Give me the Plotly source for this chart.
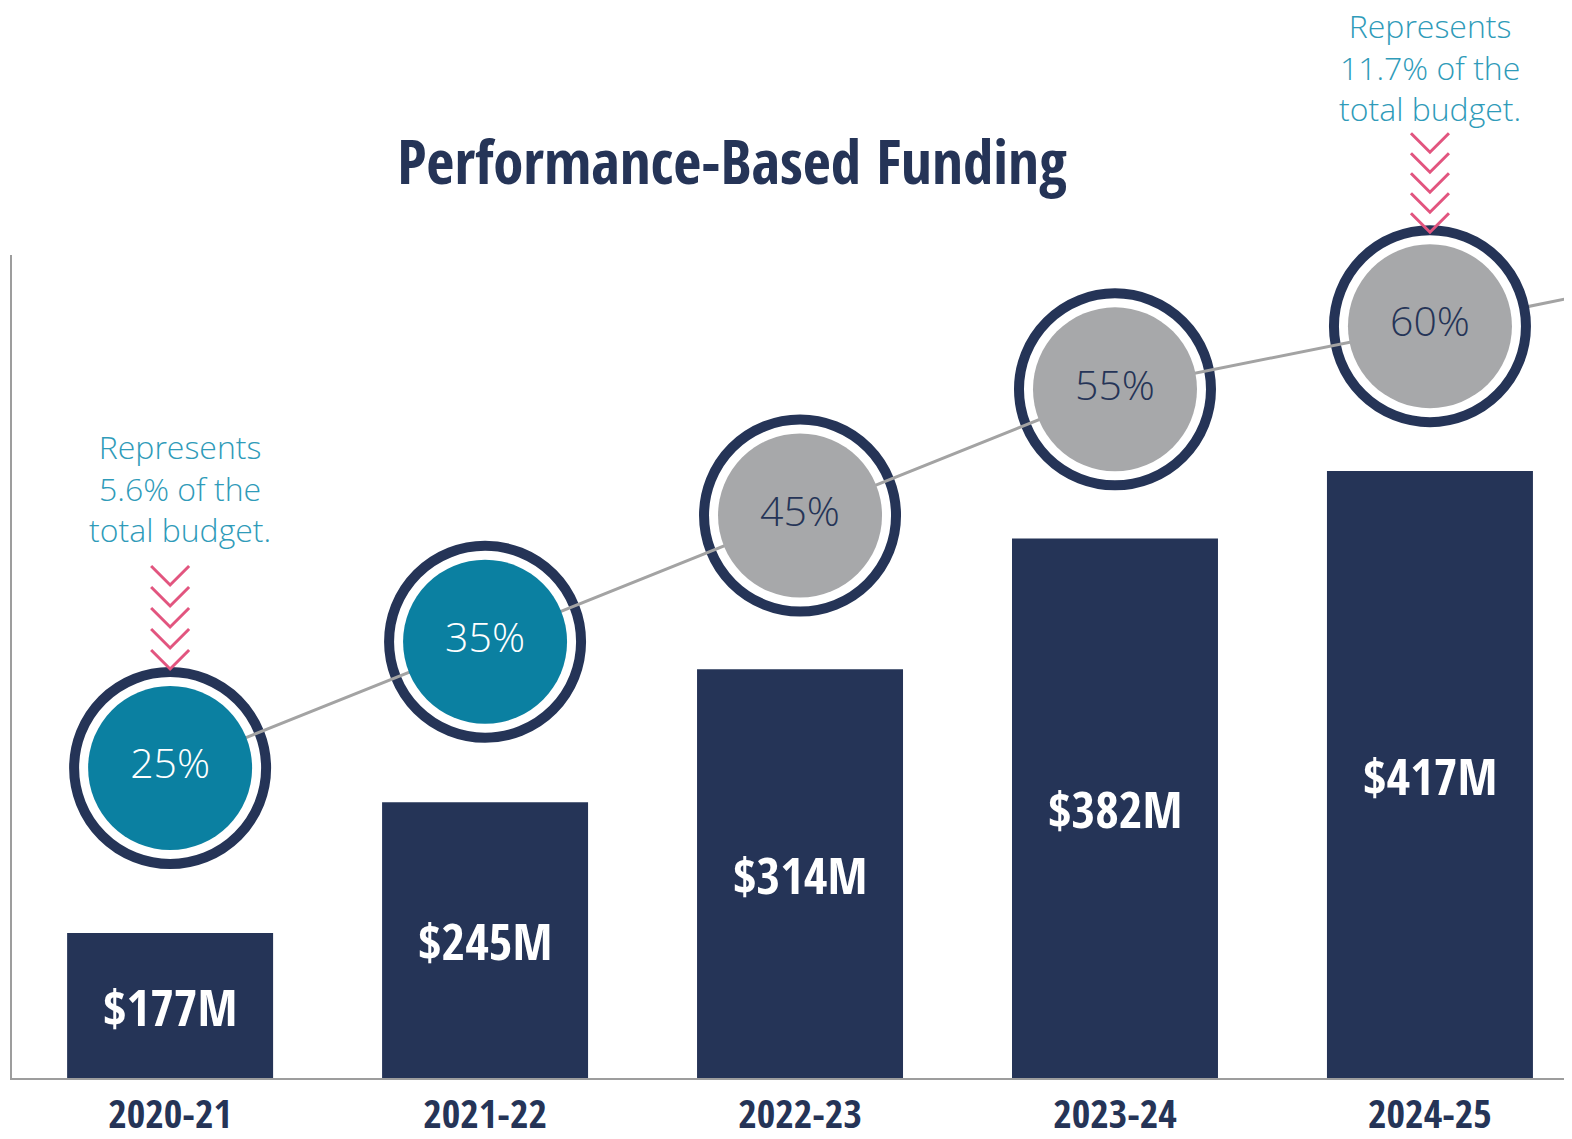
import plotly.graph_objects as go

# --- data ---
years = ["2020-21", "2021-22", "2022-23", "2023-24", "2024-25"]
funding = [177, 245, 314, 382, 417]          # $M
pbf_share = [25, 35, 45, 55, 60]             # % of funding that is performance based
note_years = ["2020-21", "2024-25"]
note_budget = ["5.6%", "11.7%"]

# --- style ---
NAVY = "#253457"
TEAL = "#0b80a1"
GREY = "#a7a8aa"
NOTE = "#2f9bb9"
PINK = "#e2557f"
AXIS = "#9d9d9d"
circle_fill = [TEAL, TEAL, GREY, GREY, GREY]
circle_text = ["white", "white", NAVY, NAVY, NAVY]
BOLD = ("Liberation Sans Narrow, Noto Sans Condensed, Open Sans Condensed, "
        "Roboto Condensed, DejaVu Sans Condensed, sans-serif")
LIGHT = "Open Sans, Lato, sans-serif"

Y_RANGE = [101.7, 529.2]     # bar axis is truncated
Y2_RANGE = [0.44, 65.64]
X_RANGE = [-0.502, 4.451]


def y2_paper(p):
    return (p - Y2_RANGE[0]) / (Y2_RANGE[1] - Y2_RANGE[0])


fig = go.Figure()

fig.add_trace(go.Bar(
    x=years, y=funding, width=0.654,
    marker=dict(color=NAVY, line=dict(width=0)),
    hovertemplate="%{x}: $%{y}M<extra></extra>",
    showlegend=False,
))

# outer navy ring with white gap
fig.add_trace(go.Scatter(
    x=years, y=pbf_share, yaxis="y2", mode="markers", cliponaxis=False,
    marker=dict(size=192, color="white", line=dict(color=NAVY, width=10)),
    hoverinfo="skip", showlegend=False,
))

# connecting line
fig.add_trace(go.Scatter(
    x=years, y=pbf_share, yaxis="y2", mode="lines", cliponaxis=False,
    line=dict(color="#a3a3a3", width=3),
    hoverinfo="skip", showlegend=False,
))

# inner filled disc with the percentage
fig.add_trace(go.Scatter(
    x=years, y=pbf_share, yaxis="y2", mode="markers+text", cliponaxis=False,
    marker=dict(size=164, color=circle_fill, line=dict(width=0)),
    text=[f"{p}%" for p in pbf_share],
    textposition="middle center",
    textfont=dict(family=LIGHT, size=41, color=circle_text, weight=300),
    hovertemplate="%{x}: %{y}%<extra></extra>",
    showlegend=False,
))

# line continues off the right edge along the last segment
slope = pbf_share[-1] - pbf_share[-2]
fig.add_shape(type="line", xref="x", yref="y2", layer="below",
              x0=len(years) - 1, y0=pbf_share[-1],
              x1=X_RANGE[1], y1=pbf_share[-1] + slope * (X_RANGE[1] - (len(years) - 1)),
              line=dict(color="#a3a3a3", width=3))

# dollar labels centred in the visible part of each bar
for yr, v in zip(years, funding):
    fig.add_annotation(x=yr, y=(Y_RANGE[0] + v) / 2, xref="x", yref="y",
                       text=f"${v}M", showarrow=False,
                       font=dict(family=BOLD, size=51, color="white", weight="bold"))

# budget notes with pink chevrons: (text dx, text dy, chevron tip height above centre, gap)
note_style = [(10, 215, 99, 21), (0, 194, 94, 20)]
for (yr, share), (dx, dy, tip, gap) in zip(zip(note_years, note_budget), note_style):
    p = pbf_share[years.index(yr)]
    fig.add_annotation(x=yr, y=p, xref="x", yref="y2", yanchor="bottom",
                       xshift=dx, yshift=dy, showarrow=False, align="center",
                       text=f"Represents<br>{share} of the<br>total budget.",
                       font=dict(family=LIGHT, size=32, color=NOTE, weight=300))
    path = " ".join(f"M -19,{tip + gap * k + 19} L 0,{tip + gap * k} L 19,{tip + gap * k + 19}"
                    for k in range(5))
    fig.add_shape(type="path", xref="x", yref="paper",
                  xsizemode="pixel", ysizemode="pixel", xanchor=yr, yanchor=y2_paper(p),
                  path=path, line=dict(color=PINK, width=3), layer="above")

# page body adds an 8px margin, so the figure is 8px smaller than the window
fig.update_layout(
    width=1564, height=1131,
    margin=dict(l=4, r=0, t=247, b=61),
    paper_bgcolor="white", plot_bgcolor="white",
    title=dict(text="Performance-Based Funding", x=0.4629, xanchor="center",
               y=0.863, yanchor="middle", yref="container",
               font=dict(family=BOLD, size=61, color=NAVY, weight="bold")),
    xaxis=dict(type="category", range=X_RANGE, showline=True, linecolor=AXIS,
               linewidth=2, ticks="", showgrid=False, zeroline=False, automargin=False,
               ticklabelstandoff=0,
               tickfont=dict(family=BOLD, size=40, color=NAVY, weight="bold")),
    yaxis=dict(range=Y_RANGE, showline=True, linecolor=AXIS, linewidth=2, automargin=False,
               showticklabels=False, ticks="", showgrid=False, zeroline=False),
    yaxis2=dict(range=Y2_RANGE, overlaying="y", visible=False),
    showlegend=False,
)

fig.write_html("out.html")
